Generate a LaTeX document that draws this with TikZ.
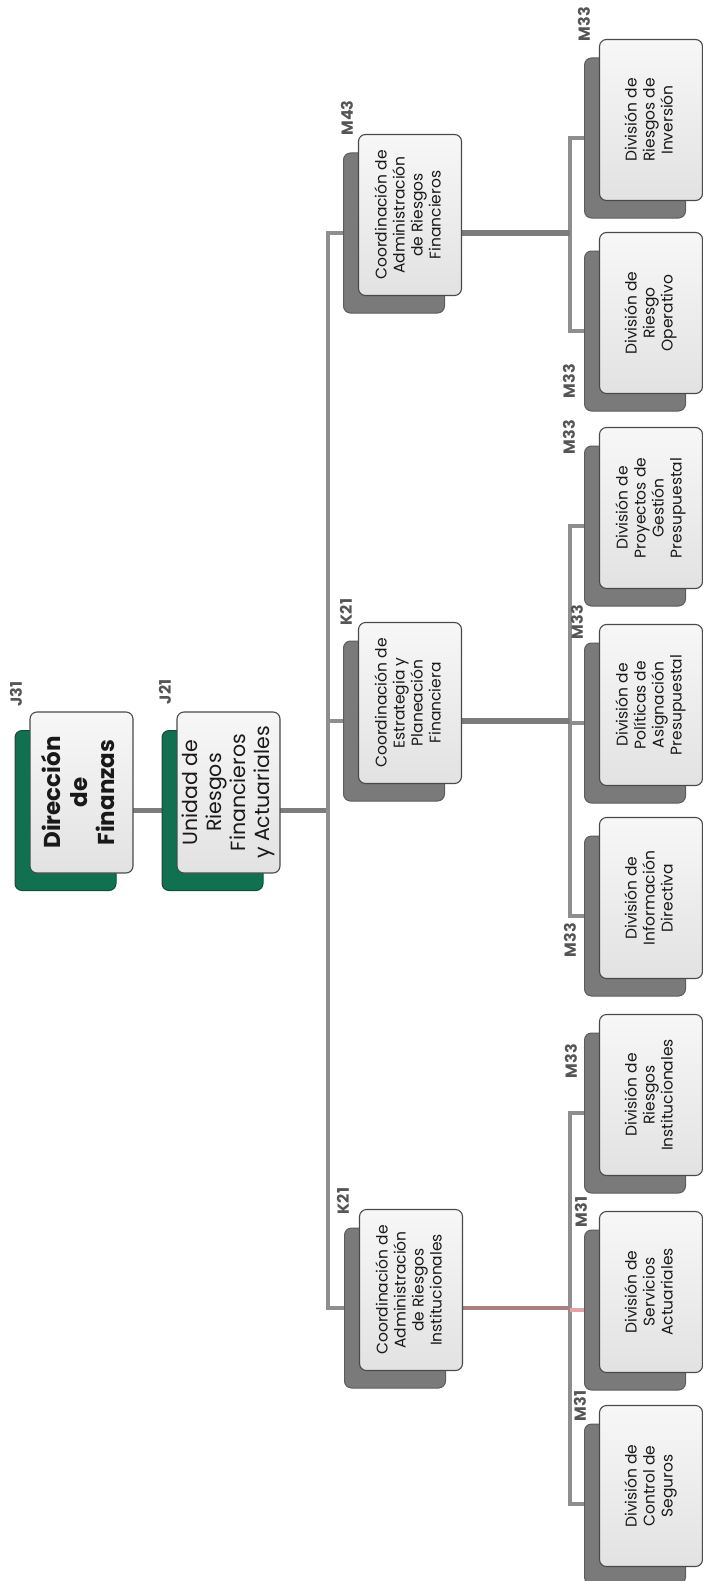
\documentclass[tikz,border=0pt]{standalone}
\usepackage{fontspec}
\setmainfont{Poppins}
\usetikzlibrary{calc}
\pgfdeclarelayer{bg}
\pgfsetlayers{bg,main}
\definecolor{linegray}{HTML}{7C7C7C}
\definecolor{busgray}{HTML}{8E8E8E}
\definecolor{boxedge}{HTML}{4A4A4A}
\definecolor{boxtop}{HTML}{F7F7F7}
\definecolor{boxbot}{HTML}{E2E2E2}
\definecolor{shadgray}{HTML}{7A7A7A}
\definecolor{shadedge}{HTML}{5C5C5C}
\definecolor{shadgreen}{HTML}{11704F}
\definecolor{greenedge}{HTML}{0A4F38}
\definecolor{labgray}{HTML}{555555}
\definecolor{redline}{HTML}{A98080}
\definecolor{pinkline}{HTML}{E6A3A3}
\newcommand\rtext[1]{\rotatebox{90}{\begin{tabular}{@{}c@{}}#1\end{tabular}}}
\newcommand\orgbox[5]{%
  \node[#4] (#1-s) at ($(#2,#3)+(-16,18)$) {};
  \node[front] (#1) at (#2,#3) {#5};}
\begin{document}
\begin{tikzpicture}[x=1pt,y=-1pt,
  front/.style={draw=boxedge, line width=1.1pt, rounded corners=7pt,
    top color=boxtop, bottom color=boxbot, minimum width=103pt,
    minimum height=161pt, inner sep=0pt, text=black!90,
    font=\fontsize{15.5}{18}\selectfont},
  shad/.style={draw=shadedge, line width=1pt, rounded corners=7pt,
    fill=shadgray, minimum width=101pt, minimum height=160pt, inner sep=0pt},
  shadg/.style={shad, fill=shadgreen, draw=greenedge},
  lab/.style={rotate=90, inner sep=0pt, text=labgray,
    font=\fontsize{16}{16}\selectfont\bfseries},
  mainline/.style={draw=linegray, line width=5.5pt},
  busline/.style={draw=busgray, line width=4pt},
]
\useasboundingbox (0,0) rectangle (702,1581);

% top boxes
\orgbox{dir}{81.5}{792.5}{shadg}{\fontsize{23}{27}\selectfont\bfseries\rtext{Dirección\\de\\Finanzas}}
\orgbox{uni}{228.5}{792.5}{shadg}{\fontsize{20.5}{24}\selectfont\rtext{Unidad de\\Riesgos\\Financieros\\y Actuariales}}

% coordinations
\orgbox{cA}{410}{215}{shad}{\rtext{Coordinación de\\Administración\\de Riesgos\\Financieros}}
\orgbox{cB}{410}{703}{shad}{\rtext{Coordinación de\\Estrategia y\\Planeación\\Financiera}}
\orgbox{cC}{411}{1290}{shad}{\rtext{Coordinación de\\Administración\\de Riesgos\\Institucionales}}

% divisions
\orgbox{d1}{651}{120}{shad}{\rtext{División de\\Riesgos de\\Inversión}}
\orgbox{d2}{651}{313}{shad}{\rtext{División de\\Riesgo\\Operativo}}
\orgbox{d3}{651}{508}{shad}{\rtext{División de\\Proyectos de\\Gestión\\Presupuestal}}
\orgbox{d4}{651}{705}{shad}{\rtext{División de\\Políticas de\\Asignación\\Presupuestal}}
\orgbox{d5}{651}{898}{shad}{\rtext{División de\\Información\\Directiva}}
\orgbox{d6}{651}{1095}{shad}{\rtext{División de\\Riesgos\\Institucionales}}
\orgbox{d7}{651}{1292}{shad}{\rtext{División de\\Servicios\\Actuariales}}
\orgbox{d8}{651}{1486}{shad}{\rtext{División de\\Control de\\Seguros}}

% level labels
\node[lab] (lJ31) at (16,694) {J31};
\node[lab] (lJ21) at (165,692) {J21};
\node[lab] (lM43) at (347,118) {M43};
\node[lab] (lK21a) at (346,612) {K21};
\node[lab] (lK21b) at (343,1201) {K21};
\node[lab] (lM33a) at (584,24) {M33};
\node[lab] (lM33b) at (569,381) {M33};
\node[lab] (lM33c) at (569,437) {M33};
\node[lab] (lM33d) at (577,622) {M33};
\node[lab] (lM33e) at (570,940) {M33};
\node[lab] (lM33f) at (571,1061) {M33};
\node[lab] (lM31a) at (581,1212) {M31};
\node[lab] (lM31b) at (580,1406) {M31};

\begin{pgfonlayer}{bg}
\coordinate (busL) at (328,0);
\coordinate (busR) at (570,0);
\draw[mainline] (dir-s.center) -- (uni-s.center);
\draw[mainline] (uni-s.center) -- (uni-s.center -| busL);
\draw[busline] (cA-s.center) -- (cA-s.center -| busL) -- (cC-s.center -| busL) -- (cC-s.center);
\draw[busline] (cB-s.center) -- (cB-s.center -| busL);
% group A
\draw[busline] (d1-s.center) -- (d1-s.center -| busR) -- (d2-s.center -| busR) -- (d2-s.center);
\draw[mainline] (cA-s.center) -- (cA-s.center -| busR);
% group B
\draw[busline] (d3-s.center) -- (d3-s.center -| busR) -- (d5-s.center -| busR) -- (d5-s.center);
\draw[busline] (d4-s.center) -- (d4-s.center -| busR);
\draw[mainline] (cB-s.center) -- (cB-s.center -| busR);
% group C
\draw[busline] (d6-s.center) -- (d6-s.center -| busR) -- (d8-s.center -| busR) -- (d8-s.center);
\draw[busline, draw=pinkline] (d7-s.center) -- (d7-s.center -| busR);
\draw[mainline, draw=redline, line width=4pt] (cC-s.center) -- (cC-s.center -| busR);
\end{pgfonlayer}
\end{tikzpicture}
\end{document}
